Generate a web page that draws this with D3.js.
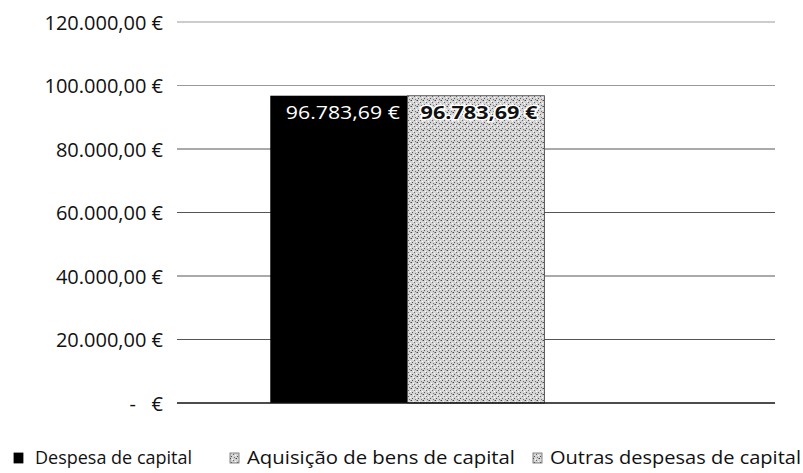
<!DOCTYPE html>
<html>
<head>
<meta charset="utf-8">
<script src="https://cdn.jsdelivr.net/npm/d3@7"></script>
<style>
  body { margin: 0; background: #fff; }
  svg text { font-family: "Open Sans", "Noto Sans", sans-serif; }
</style>
</head>
<body>
<div id="chart"></div>
<script>
// data
const categories = ["Despesa de capital", "Aquisição de bens de capital", "Outras despesas de capital"];
const values = [96783.69, 96783.69, 0];
const yTicks = [0, 20000, 40000, 60000, 80000, 100000, 120000];

const width = 803, height = 473;
const margin = { top: 22, right: 28, bottom: 70, left: 177 };
const graphWidth = width - margin.left - margin.right;
const graphHeight = height - margin.top - margin.bottom;

// the scan is a bit stretched sideways, so text gets a fixed length
const legendX = [14, 230, 533];
const legendLen = [157, 268, 251];

const pt = d3.formatLocale({ decimal: ",", thousands: ".", grouping: [3], currency: ["", " €"] });
const money = pt.format("$,.2f");
const tickFmt = d => d === 0 ? "-\u00a0\u00a0\u00a0€" : money(d);

const svg = d3.select("#chart").append("svg")
  .attr("width", width)
  .attr("height", height);

// stipple texture for the grey bars
const defs = svg.append("defs");
const pat = defs.append("pattern")
  .attr("id", "stipple")
  .attr("patternUnits", "userSpaceOnUse")
  .attr("width", 6).attr("height", 6);
pat.append("rect").attr("width", 6).attr("height", 6).attr("fill", "#d4d4d4");
[[0, 0, "#444"], [3, 2, "#666"], [1, 4, "#555"], [5, 3, "#fff"], [4, 5, "#777"], [2, 1, "#fff"], [5, 0, "#999"]]
  .forEach(p => pat.append("rect").attr("x", p[0]).attr("y", p[1]).attr("width", 1).attr("height", 1).attr("fill", p[2]));

const fills = ["#000", "url(#stipple)", "url(#stipple)"];

const graph = svg.append("g")
  .attr("transform", `translate(${margin.left}, ${margin.top})`);

const y = d3.scaleLinear().domain([0, 120000]).range([graphHeight, 0]);
const x = d3.scaleBand()
  .domain(categories)
  .range([0, graphWidth])
  .paddingInner(0)
  .paddingOuter(0.68);

// labels
const yAxis = d3.axisLeft(y).tickValues(yTicks).tickFormat(tickFmt).tickSize(0).tickPadding(14);
const yAxisGroup = graph.append("g").call(yAxis);
yAxisGroup.select(".domain").remove();
yAxisGroup.selectAll("text").attr("font-size", 20).attr("fill", "#111").attr("dy", "0.36em");

// gridlines
graph.append("g").selectAll("line")
  .data(yTicks.filter(d => d > 0))
  .enter().append("line")
  .attr("x1", 0).attr("x2", graphWidth)
  .attr("y1", d => y(d)).attr("y2", d => y(d))
  .attr("stroke", d => d >= 100000 ? "#999" : "#555")
  .attr("stroke-width", 1);

// bars
graph.selectAll("rect.bar")
  .data(values)
  .enter().append("rect")
  .attr("class", "bar")
  .attr("x", (d, i) => x(categories[i]))
  .attr("y", d => y(d))
  .attr("width", x.bandwidth())
  .attr("height", d => graphHeight - y(d))
  .attr("fill", (d, i) => fills[i])
  .attr("stroke", (d, i) => i === 0 ? "none" : "#444")
  .attr("stroke-width", 0.8);

// baseline
graph.append("line")
  .attr("x1", 0).attr("x2", graphWidth)
  .attr("y1", y(0)).attr("y2", y(0))
  .attr("stroke", "#111")
  .attr("stroke-width", 1.6);

// value labels
const labelData = values.map((v, i) => ({ v, i })).filter(d => d.v > 0);
graph.selectAll("text.val")
  .data(labelData)
  .enter().append("text")
  .attr("class", "val")
  .attr("x", d => x(categories[d.i]) + x.bandwidth() / 2 + (d.i === 0 ? 4 : 3))
  .attr("y", d => y(d.v) + 23)
  .attr("text-anchor", "middle")
  .attr("font-size", 18)
  .attr("font-weight", d => d.i === 0 ? "normal" : "bold")
  .attr("textLength", d => d.i === 0 ? 114 : 117)
  .attr("lengthAdjust", "spacingAndGlyphs")
  .attr("fill", d => d.i === 0 ? "#fff" : "#111")
  .attr("stroke", d => d.i === 0 ? "none" : "#fff")
  .attr("stroke-width", 3)
  .attr("paint-order", "stroke")
  .text(d => money(d.v));

// legend
const legend = svg.append("g").attr("transform", "translate(0, 464)");
const item = legend.selectAll("g")
  .data(categories)
  .enter().append("g")
  .attr("transform", (d, i) => `translate(${legendX[i]}, 0)`);
item.append("rect")
  .attr("x", 0).attr("y", -11)
  .attr("width", 9).attr("height", 10)
  .attr("fill", (d, i) => fills[i])
  .attr("stroke", (d, i) => i === 0 ? "#000" : "#666")
  .attr("stroke-width", 0.8);
item.append("text")
  .attr("x", (d, i) => i === 0 ? 21 : 17).attr("y", 0)
  .attr("font-size", 18)
  .attr("textLength", (d, i) => legendLen[i])
  .attr("lengthAdjust", "spacingAndGlyphs")
  .attr("fill", "#111")
  .text(d => d);
</script>
</body>
</html>
